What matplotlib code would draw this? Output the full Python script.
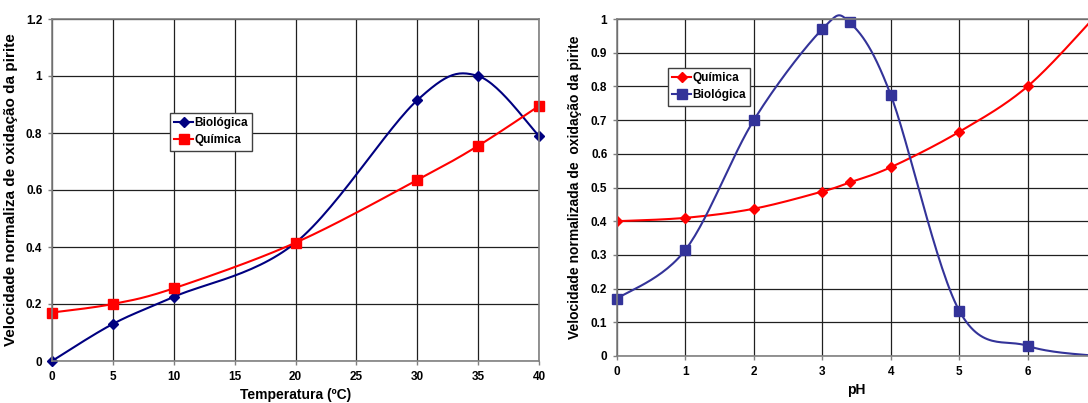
import numpy as np
import matplotlib
matplotlib.use("Agg")
from matplotlib import pyplot as plt

plt.rcParams['font.family'] = ['Liberation Sans', 'DejaVu Sans']
plt.rcParams['font.weight'] = 'bold'

# left chart: temperature
temp = [0, 5, 10, 20, 30, 35, 40]
temp_bio = [0.0, 0.13, 0.225, 0.415, 0.915, 1.0, 0.79]
temp_quim = [0.17, 0.2, 0.255, 0.415, 0.635, 0.755, 0.895]

# right chart: pH
ph_bio_x = [0, 1, 2, 3, 3.4, 4, 5, 6, 7]
ph_bio = [0.17, 0.315, 0.70, 0.97, 0.99, 0.775, 0.135, 0.03, 0.0]
ph_quim_x = [0, 1, 2, 3, 3.4, 4, 5, 6, 7]
ph_quim = [0.40, 0.41, 0.437, 0.488, 0.515, 0.56, 0.665, 0.80, 1.01]


def smooth(x, y, n=30):
    # Excel-like smoothed line (cubic bezier through points)
    x = np.asarray(x, float)
    y = np.asarray(y, float)
    px, py = [], []
    for i in range(len(x) - 1):
        x0, y0 = (x[i - 1], y[i - 1]) if i > 0 else (x[i], y[i])
        x3, y3 = (x[i + 2], y[i + 2]) if i + 2 < len(x) else (x[i + 1], y[i + 1])
        c1 = (x[i] + (x[i + 1] - x0) / 6, y[i] + (y[i + 1] - y0) / 6)
        c2 = (x[i + 1] - (x3 - x[i]) / 6, y[i + 1] - (y3 - y[i]) / 6)
        t = np.linspace(0, 1, n)
        bx = (1-t)**3*x[i] + 3*(1-t)**2*t*c1[0] + 3*(1-t)*t**2*c2[0] + t**3*x[i+1]
        by = (1-t)**3*y[i] + 3*(1-t)**2*t*c1[1] + 3*(1-t)*t**2*c2[1] + t**3*y[i+1]
        px.extend(bx)
        py.extend(by)
    return np.array(px), np.array(py)


W, H = 1088, 403
fig = plt.figure(figsize=(W / 100, H / 100), dpi=100)


def style(ax):
    ax.grid(True, color='#202020', lw=0.9)
    ax.set_axisbelow(True)
    for s in ax.spines.values():
        s.set_color('#808080')
        s.set_linewidth(1.2)
    ax.tick_params(labelsize=8.5, length=3, width=1, color='#808080', pad=4)
    for lab in ax.get_xticklabels() + ax.get_yticklabels():
        lab.set_fontweight('bold')


def add_legend(ax, x0, y0):
    leg = ax.legend(loc='upper left', bbox_to_anchor=(x0, y0),
                    fontsize=8.5, frameon=True, fancybox=False, borderpad=0.35, handlelength=1.6,
                    handletextpad=0.1, labelspacing=0.45, borderaxespad=0, framealpha=1)
    leg.get_frame().set_edgecolor('#404040')
    for t in leg.get_texts():
        t.set_fontweight('bold')


# ---- left
ax1 = fig.add_axes([52 / W, 1 - 361 / H, (539 - 52) / W, (361 - 19) / H])
sx, sy = smooth(temp, temp_bio)
ax1.plot(sx, sy, color='#000080', lw=1.5, clip_on=False)
ax1.plot(temp, temp_bio, 'D', color='#000080', ms=5, clip_on=False)
sx, sy = smooth(temp, temp_quim)
ax1.plot(sx, sy, color='#FF0000', lw=1.5, clip_on=False)
ax1.plot(temp, temp_quim, 's', color='#FF0000', ms=7, clip_on=False)
ax1.plot([], [], '-D', color='#000080', ms=5, lw=1.5, label='Biológica')
ax1.plot([], [], '-s', color='#FF0000', ms=7, lw=1.5, label='Química')
ax1.set_xlim(0, 40)
ax1.set_ylim(0, 1.2)
ax1.set_xticks(range(0, 41, 5))
ax1.set_yticks([0, 0.2, 0.4, 0.6, 0.8, 1.0, 1.2])
ax1.set_yticklabels(['0', '0.2', '0.4', '0.6', '0.8', '1', '1.2'])
style(ax1)
add_legend(ax1, (170 - 52) / 487, 1 - (113 - 19) / 342)
ax1.set_xlabel('Temperatura (ºC)', fontsize=10, fontweight='bold', labelpad=4)
ax1.set_ylabel('Velocidade normaliza de oxidação da pirite', fontsize=11, fontweight='bold', labelpad=6)

# ---- right
ax2 = fig.add_axes([617 / W, 1 - 356 / H, (1096 - 617) / W, (356 - 19) / H])
sx, sy = smooth(ph_quim_x, ph_quim)
ax2.plot(sx, sy, color='#FF0000', lw=1.5)
ax2.plot(ph_quim_x, ph_quim, 'D', color='#FF0000', ms=5)
sx, sy = smooth(ph_bio_x, ph_bio)
ax2.plot(sx, sy, color='#333399', lw=1.5, clip_on=False)
ax2.plot(ph_bio_x, ph_bio, 's', color='#333399', ms=7, clip_on=False)
ax2.plot([], [], '-D', color='#FF0000', ms=5, lw=1.5, label='Química')
ax2.plot([], [], '-s', color='#333399', ms=7, lw=1.5, label='Biológica')
ax2.set_xlim(0, 7)
ax2.set_ylim(0, 1)
ax2.set_xticks(range(0, 7))
ax2.set_yticks(np.arange(0, 1.01, 0.1))
ax2.set_yticklabels(['0', '0.1', '0.2', '0.3', '0.4', '0.5', '0.6', '0.7', '0.8', '0.9', '1'])
style(ax2)
add_legend(ax2, (668 - 617) / 479, 1 - (68 - 19) / 337)
ax2.set_xlabel('pH', fontsize=10, fontweight='bold', labelpad=4)
ax2.set_ylabel('Velocidade normalizada de  oxidação da pirite', fontsize=10, fontweight='bold', labelpad=6)

fig.savefig('out.png', dpi=100)
